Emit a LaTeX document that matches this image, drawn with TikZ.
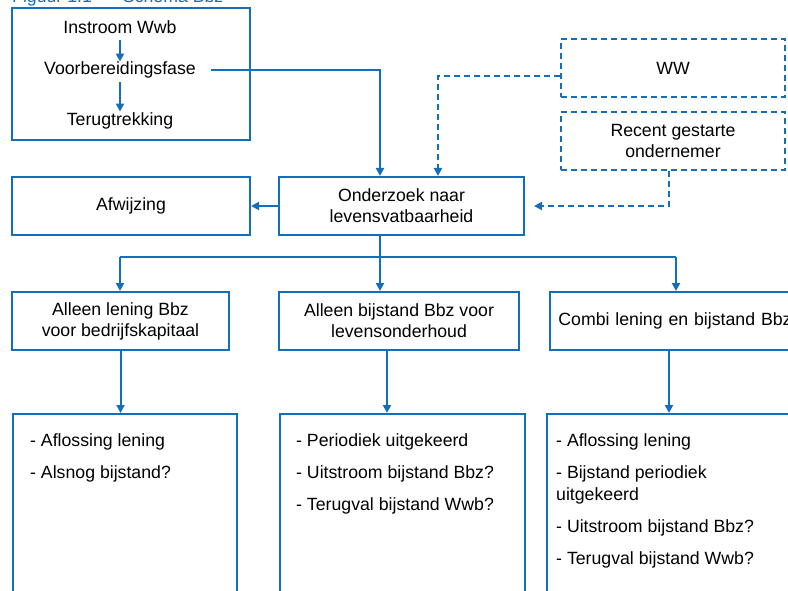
\documentclass[tikz,border=0pt]{standalone}
\usepackage{fontspec}
\setmainfont{Liberation Sans}
\usetikzlibrary{arrows.meta,calc}
\definecolor{bblue}{RGB}{20,110,185}
\begin{document}
\begin{tikzpicture}[x=1pt,y=-1pt,
  every node/.style={font=\fontsize{17.7}{21}\selectfont, inner sep=0pt, text=black},
  box/.style={draw=bblue, line width=2pt, align=center},
  dbox/.style={box, dash pattern=on 6pt off 4pt},
  conn/.style={draw=bblue, line width=2pt},
  arr/.style={conn, -{Triangle[length=8pt,width=8pt]}},
  darr/.style={arr, dash pattern=on 6pt off 4pt},
  lst/.style={align=left, anchor=north west, font=\fontsize{17.7}{22}\selectfont}]
\useasboundingbox (0,0) rectangle (788,591);

\node[anchor=base west, text=bblue, font=\fontsize{17.7}{21}\selectfont] (title) at (12,3)
  {Figuur 1.1\hspace{0.6em}–\hspace{0.6em}Schema Bbz};

% top-left group
\node[box, minimum width=238pt, minimum height=132pt] (grp) at (131,74) {};
\node (ins) at (120,27) {Instroom Wwb};
\node (voor) at (120,70) {Voorbereidingsfase};
\node (terug) at (120,121) {Terugtrekking};
\draw[arr, shorten <=6pt] (ins.south) -- (voor.north);
\draw[arr, shorten <=4pt, shorten >=1pt] (voor.south) -- (terug.north);

% main boxes
\node[box, minimum width=245pt, minimum height=58pt] (ond) at (401.5,206) {Onderzoek naar\\levensvatbaarheid};
\node[box, minimum width=238pt, minimum height=58pt] (afw) at (131,206) {Afwijzing};
\node[dbox, minimum width=224pt, minimum height=58pt] (ww) at (673,68.5) {WW};
\node[dbox, minimum width=224pt, minimum height=58pt] (rec) at (673,141) {Recent gestarte\\ondernemer};

\draw[arr] ([xshift=15pt]voor.east) -| ([xshift=-21.5pt]ond.north);
\draw[arr] (ond.west) -- (afw.east);
\draw[darr] ($(ww.west)+(0,7.5)$) -| ([xshift=36.5pt]ond.north);
\draw[darr] ([xshift=-4pt]rec.south) |- ([xshift=9pt]ond.east);

% second row
\node[box, minimum width=217pt, minimum height=58pt] (b1) at (120.5,321) {Alleen lening Bbz\\voor bedrijfskapitaal};
\node[box, minimum width=240pt, minimum height=58pt] (b2) at (399,321) {Alleen bijstand Bbz voor\\levensonderhoud};
\node[box, minimum width=250pt, minimum height=58pt, text width=240pt] (b3) at (675,321) {Combi lening en bijstand Bbz};

\coordinate (jm) at (380,257);
\coordinate (jl) at (120,257);
\coordinate (jr) at (676,257);
\draw[conn] ([xshift=-21.5pt]ond.south) -- (jm);
\draw[conn] (jl) -- (jr);
\draw[arr] (jl) -- (jl |- b1.north);
\draw[arr] (jm) -- (jm |- b2.north);
\draw[arr] (jr) -- (jr |- b3.north);

% third row
\node[box, minimum width=224pt, minimum height=210pt, anchor=north west] (c1) at (12,413) {};
\node[box, minimum width=245pt, minimum height=210pt, anchor=north west] (c2) at (279,413) {};
\node[box, minimum width=260pt, minimum height=210pt, anchor=north west] (c3) at (546,413) {};

\draw[arr] (b1.south) -- (b1.south |- c1.north);
\draw[arr] ([xshift=-12pt]b2.south) -- ([xshift=-12pt]b2.south |- c2.north);
\draw[arr] ([xshift=-6pt]b3.south) -- ([xshift=-6pt]b3.south |- c3.north);

\node[lst] (t1) at (30,433) {- Aflossing lening\\[10pt]- Alsnog bijstand?};
\node[lst] (t2) at (296,433) {- Periodiek uitgekeerd\\[10pt]- Uitstroom bijstand Bbz?\\[10pt]- Terugval bijstand Wwb?};
\node[lst] (t3) at (556,433) {- Aflossing lening\\[10pt]- Bijstand periodiek\\uitgekeerd\\[10pt]- Uitstroom bijstand Bbz?\\[10pt]- Terugval bijstand Wwb?};
\end{tikzpicture}
\end{document}
